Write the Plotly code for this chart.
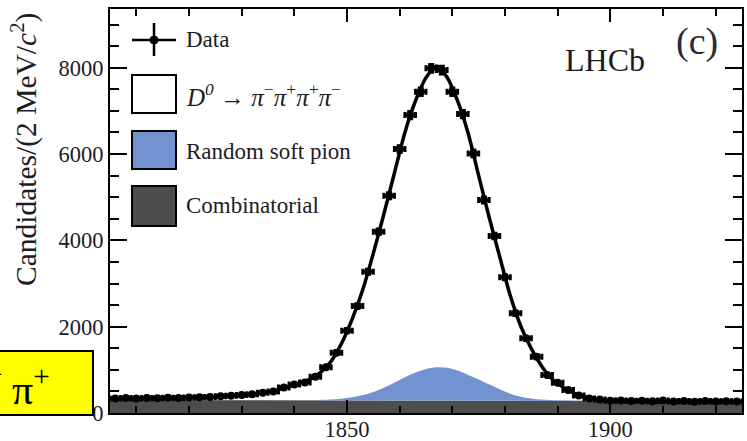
import numpy as np
import plotly.graph_objects as go

# ---- binned data: D0 -> pi- pi+ pi+ pi- candidate mass, 2 MeV bins ----
bin_edges = np.arange(1805, 1926, 2)
mass_centres = (bin_edges[:-1] + bin_edges[1:]) / 2

candidates = [338, 345, 336, 348, 342, 352, 346, 358, 366, 372,
              386, 400, 416, 432, 468, 500, 590, 660, 705, 842,
              1058, 1397, 1907, 2479, 3273, 4200, 5034, 6115, 6903, 7443,
              7985, 7945, 7443, 6926, 6015, 4934, 4100, 3143, 2309, 1730,
              1305, 880, 702, 530, 405, 338, 312, 285, 292, 276,
              284, 270, 288, 265, 280, 262, 278, 268, 275, 266]

# ---- fit components, sampled on the bin edges ----
fit_mass = bin_edges
fit_total = [336, 337, 338, 340, 342, 345, 349, 354, 360, 368,
             377, 389, 404, 425, 453, 488, 540, 615, 690, 785,
             940, 1200, 1620, 2180, 2860, 3700, 4610, 5560, 6500, 7230,
             7770, 8040, 7780, 7230, 6480, 5500, 4530, 3620, 2720, 2010,
             1490, 1080, 780, 600, 460, 375, 325, 298, 288, 284,
             282, 280, 279, 278, 277, 276, 275, 274, 273, 272, 271]
combinatorial = [300, 300, 300, 299, 299, 299, 298, 298, 298, 297,
                 297, 296, 296, 295, 295, 294, 294, 293, 293, 292,
                 292, 291, 291, 290, 290, 289, 289, 288, 288, 287,
                 287, 286, 286, 285, 285, 284, 284, 283, 283, 282,
                 282, 281, 281, 281, 280, 280, 280, 279, 279, 279,
                 279, 278, 278, 278, 278, 278, 278, 278, 278, 278, 278]
soft_pion = [0, 0, 0, 0, 0, 0, 0, 0, 0, 0,
             0, 0, 0, 0, 0, 0, 0, 0, 2, 4,
             10, 20, 40, 73, 125, 200, 298, 414, 538, 650,
             734, 773, 760, 697, 597, 495, 380, 265, 165, 95,
             55, 29, 14, 6, 3, 1, 0, 0, 0, 0,
             0, 0, 0, 0, 0, 0, 0, 0, 0, 0, 0]

y_ticks = [0, 2000, 4000, 6000, 8000]
x_ticks = [1850, 1900]

SERIF = "Liberation Serif"
INK = "#1c1c24"
BLUE = "#7393d0"
GREY = "#4d4d4d"

comb = np.array(combinatorial, dtype=float)
pion_top = comb + np.array(soft_pion, dtype=float)

fig = go.Figure()

fig.add_trace(go.Scatter(
    x=fit_mass, y=comb, name="Combinatorial", mode="lines",
    line=dict(width=0, color=GREY), fill="tozeroy", fillcolor=GREY,
    showlegend=False, hoverinfo="skip"))
fig.add_trace(go.Scatter(
    x=fit_mass, y=pion_top, name="Random soft pion", mode="lines",
    line=dict(width=0, color=BLUE, shape="spline", smoothing=0.6),
    fill="tonexty", fillcolor=BLUE, showlegend=False, hoverinfo="skip"))
fig.add_trace(go.Scatter(
    x=fit_mass, y=fit_total, name="Fit", mode="lines",
    line=dict(width=3.5, color="black", shape="spline", smoothing=0.8),
    showlegend=False))
fig.add_trace(go.Scatter(
    x=mass_centres, y=candidates, name="Data", mode="markers",
    marker=dict(color="black", size=8, symbol="circle"),
    error_x=dict(type="constant", value=1, thickness=3, width=3, color="black"),
    error_y=dict(type="sqrt", thickness=3, width=3, color="black"),
    showlegend=False))

axis_common = dict(
    showline=True, linewidth=2, linecolor="black", mirror="allticks",
    ticks="inside", tickwidth=2, tickcolor="black", showgrid=False,
    zeroline=False, automargin=False,
    tickfont=dict(family=SERIF, size=22.5, color=INK),
)
fig.update_xaxes(range=[1805, 1925], tickvals=x_ticks, ticklen=13,
                 ticklabelstandoff=-5,
                 minor=dict(dtick=10, ticklen=7, tickwidth=2, ticks="inside",
                            tickcolor="black", showgrid=False),
                 **axis_common)
fig.update_yaxes(range=[0, 9360], tickvals=y_ticks, ticklen=17,
                 minor=dict(dtick=500, ticklen=9, tickwidth=2, ticks="inside",
                            tickcolor="black", showgrid=False),
                 **axis_common)

# pixel -> paper helpers for the hand-made legend and labels
L, R, T, B = 110, 5, 9, 28
W, H = 747, 441
PW, PH = W - L - R, H - T - B


def px(x):
    return (x - L) / PW


def py(y):
    return (H - B - y) / PH


shapes = []
# legend: data symbol
shapes.append(dict(type="line", xref="paper", yref="paper",
                   x0=px(132), x1=px(176), y0=py(40), y1=py(40),
                   line=dict(color="black", width=2.5)))
shapes.append(dict(type="line", xref="paper", yref="paper",
                   x0=px(154), x1=px(154), y0=py(23), y1=py(56),
                   line=dict(color="black", width=2.5)))
shapes.append(dict(type="circle", xref="paper", yref="paper",
                   x0=px(150), x1=px(158), y0=py(44), y1=py(36),
                   fillcolor="black", line=dict(color="black", width=1)))
# legend: filled boxes
for (top, bottom, fill) in [(75, 113, "white"), (131, 169, BLUE), (186, 226, GREY)]:
    shapes.append(dict(type="rect", xref="paper", yref="paper",
                       x0=px(132), x1=px(176), y0=py(bottom), y1=py(top),
                       fillcolor=fill, line=dict(color="black", width=2)))

legend_font = dict(family=SERIF, size=23, color=INK)
annotations = []
for text, yc, size in [("Data", 40, 23),
                       ("<i>D</i><sup><i>0</i></sup> \u2192 <i>\u03c0</i><sup>\u2212</sup>"
                        "<i>\u03c0</i><sup>+</sup><i>\u03c0</i><sup>+</sup><i>\u03c0</i><sup>\u2212</sup>",
                        95, 25),
                       ("Random soft pion", 151, 23),
                       ("Combinatorial", 205, 23)]:
    annotations.append(dict(text=text, xref="paper", yref="paper",
                            x=px(184), y=py(yc), xanchor="left", yanchor="middle",
                            showarrow=False, font=dict(legend_font, size=size)))

annotations.append(dict(text="LHCb", xref="paper", yref="paper",
                        x=px(605), y=py(60), xanchor="center", yanchor="middle",
                        showarrow=False, font=dict(family=SERIF, size=32, color=INK)))
annotations.append(dict(text="(c)", xref="paper", yref="paper",
                        x=px(697), y=py(42), xanchor="center", yanchor="middle",
                        showarrow=False, font=dict(family=SERIF, size=38, color="#2a2a3a")))
annotations.append(dict(text="Candidates/(2 MeV/<i>c</i><sup>2</sup>)",
                        xref="paper", yref="paper", x=px(24), y=py(150),
                        xanchor="center", yanchor="middle", textangle=-90,
                        showarrow=False, font=dict(family=SERIF, size=29.5, color=INK)))

# yellow slide label in the lower-left corner
annotations.append(dict(text=" ", xref="paper", yref="paper",
                        x=px(94), y=py(416), xanchor="right", yanchor="bottom",
                        width=132, height=62, bgcolor="#ffff00",
                        bordercolor="black", borderwidth=2, borderpad=0,
                        showarrow=False))
annotations.append(dict(text="\u03c0<sup>+</sup>", xref="paper", yref="paper",
                        x=px(10), y=py(386), xanchor="left", yanchor="middle",
                        showarrow=False, font=dict(family=SERIF, size=42, color="black")))
annotations.append(dict(text="\u2212", xref="paper", yref="paper",
                        x=px(5), y=py(374), xanchor="right", yanchor="middle",
                        showarrow=False, font=dict(family=SERIF, size=26, color="black")))

fig.update_layout(
    width=W, height=H, autosize=False,
    margin=dict(l=L, r=R, t=T, b=B),
    plot_bgcolor="white", paper_bgcolor="white",
    shapes=shapes, annotations=annotations, showlegend=False,
)

fig.write_html("out.html")
